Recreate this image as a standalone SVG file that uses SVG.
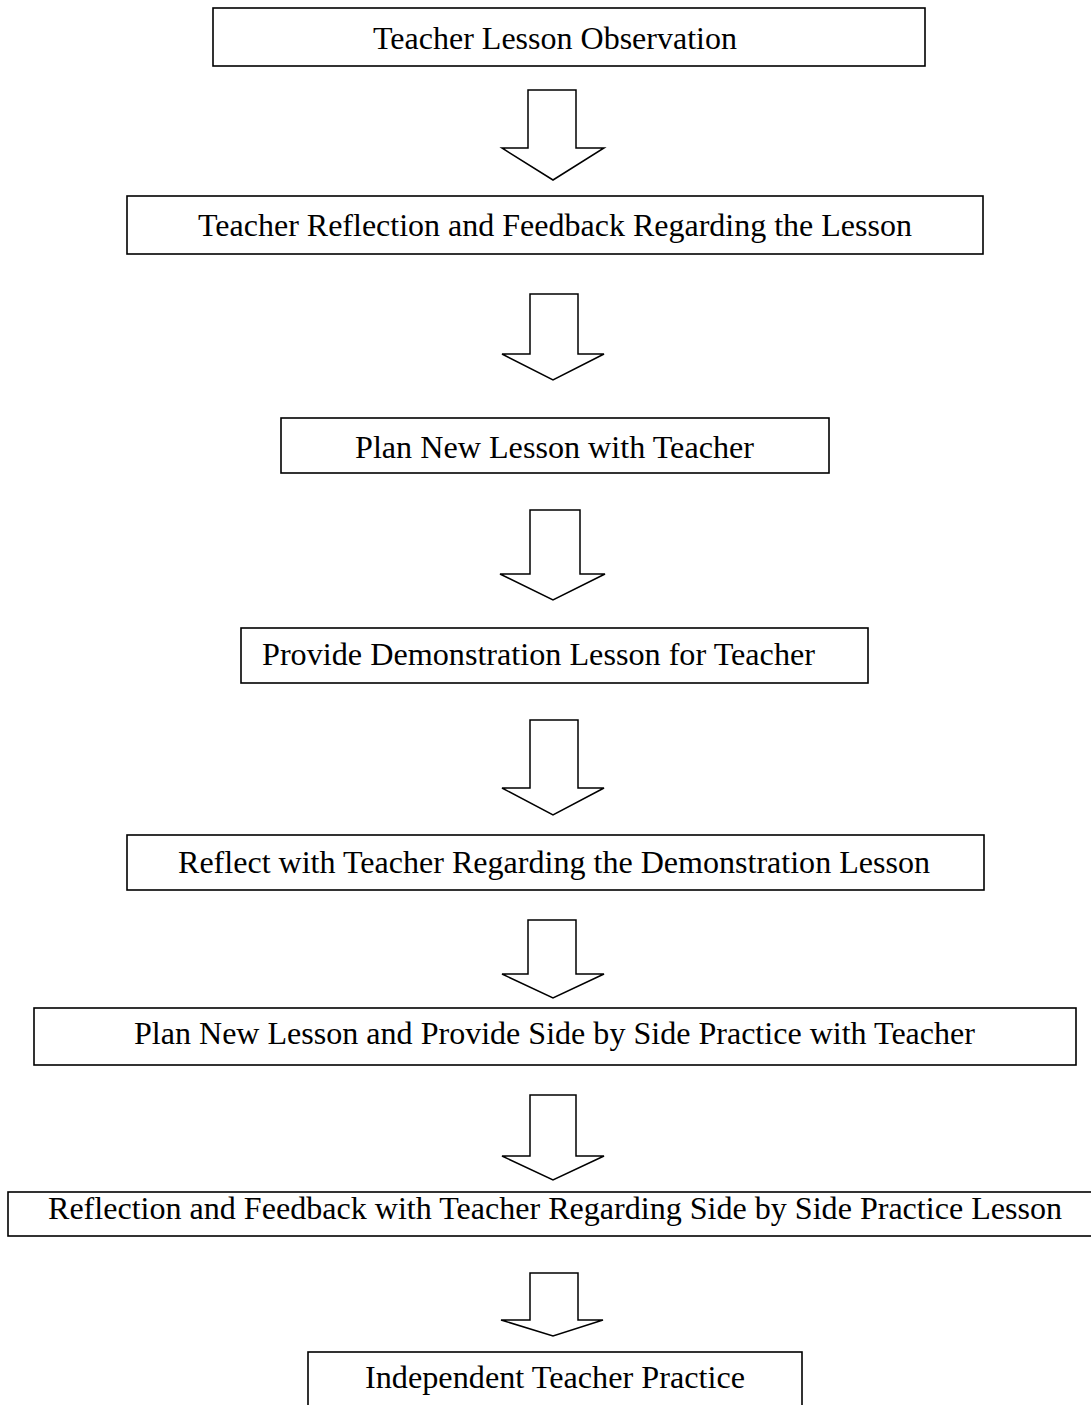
<svg xmlns="http://www.w3.org/2000/svg" width="1091" height="1405" viewBox="0 0 1091 1405">
<style>
.box{fill:#fff;stroke:#000;stroke-width:1.6}
.arr{fill:#fff;stroke:#000;stroke-width:1.5;stroke-linejoin:miter}
.t{font-family:"Liberation Serif","Times New Roman",serif;font-size:31px;fill:#000}
</style>
<rect width="1091" height="1405" fill="#fff"/>
<g id="connectors">
<polygon class="arr" points="528,90 576,90 576,148 604,148 553,180 502,148 528,148"/>
<polygon class="arr" points="530,294 578,294 578,354 604,354 553,380 502,354 530,354"/>
<polygon class="arr" points="530,510 580,510 580,574 605,574 553,600 500,574 530,574"/>
<polygon class="arr" points="530,720 578,720 578,788 604,788 553,815 502,788 530,788"/>
<polygon class="arr" points="528,920 576,920 576,974 604,974 553,998 502,974 528,974"/>
<polygon class="arr" points="530,1095 576,1095 576,1156 604,1156 553,1180 502,1156 530,1156"/>
<polygon class="arr" points="530,1273 578,1273 578,1320 603,1320 553,1336 501,1320 530,1320"/>
</g>
<g id="n1"><rect class="box" x="213" y="8" width="712" height="58"/><text class="t" x="373" y="49" textLength="364" lengthAdjust="spacingAndGlyphs">Teacher Lesson Observation</text></g>
<g id="n2"><rect class="box" x="127" y="196" width="856" height="58"/><text class="t" x="198" y="236" textLength="714" lengthAdjust="spacingAndGlyphs">Teacher Reflection and Feedback Regarding the Lesson</text></g>
<g id="n3"><rect class="box" x="281" y="418" width="548" height="55"/><text class="t" x="355" y="458" textLength="399" lengthAdjust="spacingAndGlyphs">Plan New Lesson with Teacher</text></g>
<g id="n4"><rect class="box" x="241" y="628" width="627" height="55"/><text class="t" x="262" y="665" textLength="553" lengthAdjust="spacingAndGlyphs">Provide Demonstration Lesson for Teacher</text></g>
<g id="n5"><rect class="box" x="127" y="835" width="857" height="55"/><text class="t" x="178" y="873" textLength="752" lengthAdjust="spacingAndGlyphs">Reflect with Teacher Regarding the Demonstration Lesson</text></g>
<g id="n6"><rect class="box" x="34" y="1008" width="1042" height="57"/><text class="t" x="134" y="1044" textLength="841" lengthAdjust="spacingAndGlyphs">Plan New Lesson and Provide Side by Side Practice with Teacher</text></g>
<g id="n7"><rect class="box" x="8" y="1192" width="1090" height="44"/><text class="t" x="48" y="1219" textLength="1014" lengthAdjust="spacingAndGlyphs">Reflection and Feedback with Teacher Regarding Side by Side Practice Lesson</text></g>
<g id="n8"><rect class="box" x="308" y="1352" width="494" height="60"/><text class="t" x="365" y="1388" textLength="380" lengthAdjust="spacingAndGlyphs">Independent Teacher Practice</text></g>
</svg>
